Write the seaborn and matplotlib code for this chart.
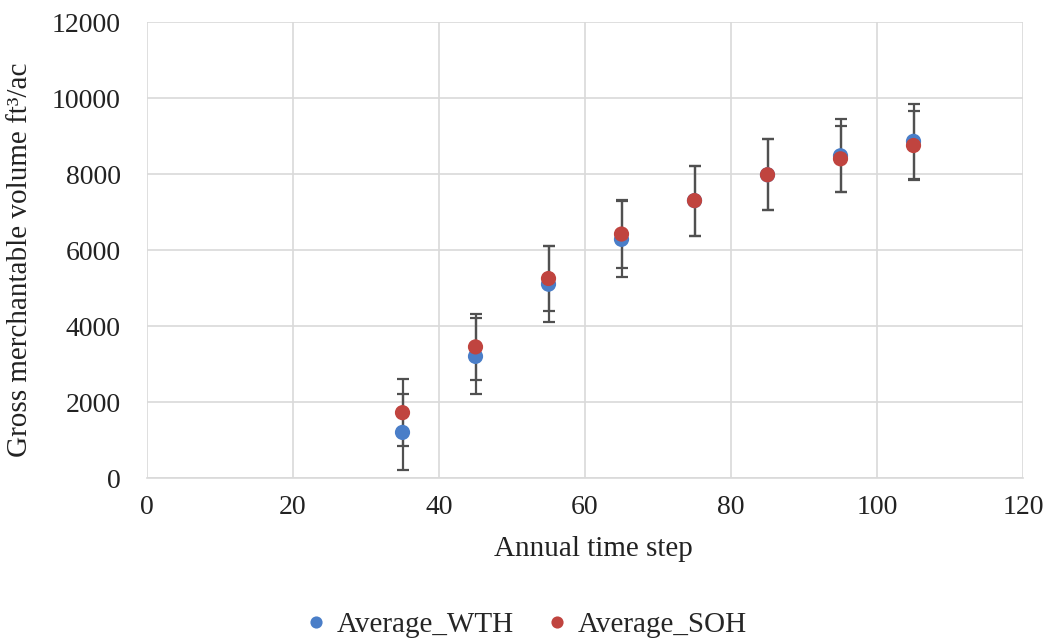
import pandas as pd
import numpy as np
import matplotlib.pyplot as plt
import seaborn as sns

# Data
years = [35, 45, 55, 65, 75, 85, 95, 105]
wth_mean = [1200, 3200, 5100, 6280, 7300, 7980, 8480, 8860]
wth_err = [1000, 1000, 1000, 1000, 920, 940, 960, 990]
soh_mean = [1720, 3450, 5250, 6420, 7300, 7980, 8400, 8750]
soh_err = [880, 870, 850, 900, 920, 940, 870, 900]

series_names = ["Average_WTH", "Average_SOH"]
colors = {"Average_WTH": "#4A7EC8", "Average_SOH": "#C0443F"}

df = pd.DataFrame({
    "year": years + years,
    "volume": wth_mean + soh_mean,
    "err": wth_err + soh_err,
    "series": [series_names[0]] * len(years) + [series_names[1]] * len(years),
})

sns.set_style("white")
plt.rcParams['font.family'] = ['Liberation Serif', 'DejaVu Serif']

fig = plt.figure(figsize=(10.5, 6.42), dpi=100)
ax = fig.add_axes([147 / 1050, 1 - 478 / 642, (1023 - 147) / 1050, (478 - 22) / 642])

for name in series_names:
    sub = df[df["series"] == name]
    ax.errorbar(sub["year"], sub["volume"], yerr=sub["err"], fmt="none",
                ecolor="#505050", elinewidth=1.6, capsize=4, capthick=1.6, zorder=2)

sns.scatterplot(data=df, x="year", y="volume", hue="series", hue_order=series_names,
                palette=colors, s=120, edgecolor="none", ax=ax, zorder=3, legend=True)

ax.set_xlim(0, 120)
ax.set_ylim(0, 12000)
ax.set_xticks(np.arange(0, 121, 20))
ax.set_yticks(np.arange(0, 12001, 2000))
ax.grid(True, color="#d9d9d9", linewidth=1.2)
ax.set_axisbelow(True)
for side in ["top", "right", "left"]:
    ax.spines[side].set_visible(False)
ax.spines["bottom"].set_color("#d9d9d9")
ax.spines["bottom"].set_linewidth(1.2)
ax.tick_params(axis="both", length=0, labelsize=20, colors="#222222")
ax.tick_params(axis="x", pad=12)
ax.tick_params(axis="y", pad=19)

ax.set_xlabel("Annual time step", fontsize=21, color="#222222")
ax.set_ylabel("Gross merchantable volume ft³/ac", fontsize=21, color="#222222")
ax.xaxis.set_label_coords(0.51, -0.127)
ax.yaxis.set_label_coords(-0.130, 0.478)

handles, labels = ax.get_legend_handles_labels()
ax.legend_.remove()
fig.legend(handles, labels, loc="center", bbox_to_anchor=(527 / 1050, 1 - 625 / 642), ncol=2,
           frameon=False, fontsize=21, handlelength=0.6, handletextpad=0.4,
           columnspacing=1.2, markerscale=0.8, borderpad=0)

fig.savefig("out.png", dpi=100)
